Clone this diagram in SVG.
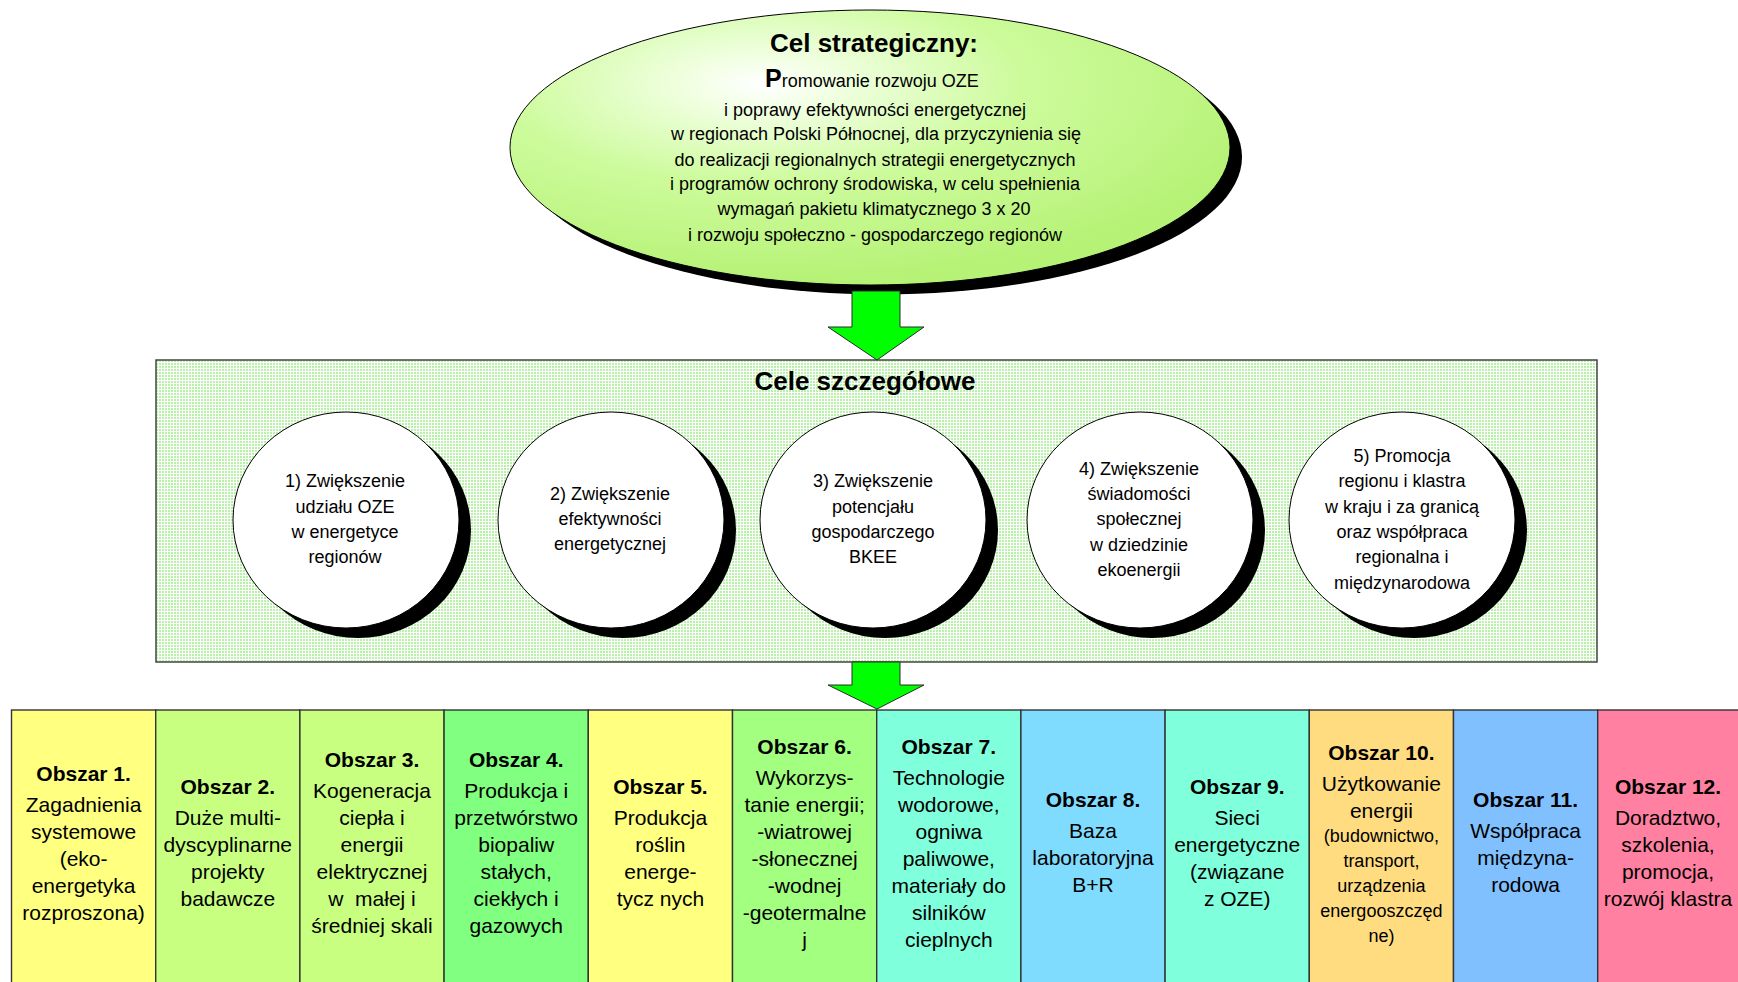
<svg xmlns="http://www.w3.org/2000/svg" width="1738" height="982" viewBox="0 0 1738 982">
<defs>
<radialGradient id="gEll" cx="0.35" cy="0.27" fx="0.35" fy="0.27" r="0.72">
<stop offset="0" stop-color="#ffffff"/>
<stop offset="0.15" stop-color="#f0ffe0"/>
<stop offset="0.5" stop-color="#cdfb9c"/>
<stop offset="1" stop-color="#b6f276"/>
</radialGradient>
<pattern id="dots" width="3" height="3" patternUnits="userSpaceOnUse">
<rect width="3" height="3" fill="#ffffff"/>
<rect width="2" height="2" fill="#b8f2a8"/>
</pattern>
<style>
text{font-family:"Liberation Sans",Arial,sans-serif;fill:#000;text-anchor:middle}
.shadow{fill:#000}
.circ{fill:#fff;stroke:#000;stroke-width:1}
.ctx{font-size:18px}
.etx{font-size:18px}
.box{stroke:#333;stroke-width:1.4}
.bt{font-size:21px;font-weight:bold}
.bb{font-size:21px}
.bs{font-size:18px}
.arrow{fill:#00ff00;stroke:#2a2a2a;stroke-width:1}
</style>
</defs>
<rect width="1738" height="982" fill="#ffffff"/>

<g id="strategic-goal">
<ellipse class="shadow" cx="882" cy="157" rx="360" ry="137.5"/>
<ellipse cx="870" cy="147.5" rx="360" ry="137.5" fill="url(#gEll)" stroke="#000" stroke-width="1"/>
<text x="874" y="52" style="font-size:26px;font-weight:bold">Cel strategiczny:</text>
<text class="etx" x="872" y="87"><tspan style="font-size:25px;font-weight:bold">P</tspan>romowanie rozwoju OZE</text>
<text class="etx" x="875" y="116">i poprawy efektywności energetycznej</text>
<text class="etx" x="876" y="140">w regionach Polski Północnej, dla przyczynienia się</text>
<text class="etx" x="875" y="166">do realizacji regionalnych strategii energetycznych</text>
<text class="etx" x="875" y="190">i programów ochrony środowiska, w celu spełnienia</text>
<text class="etx" x="874" y="215">wymagań pakietu klimatycznego 3 x 20</text>
<text class="etx" x="875" y="241">i rozwoju społeczno - gospodarczego regionów</text>
</g>

<g id="detailed-goals">
<rect x="156" y="360" width="1441" height="302" fill="url(#dots)" stroke="#444" stroke-width="1.5"/>
<text x="865" y="390" style="font-size:26px;font-weight:bold">Cele szczegółowe</text>
</g>

<g id="goal-1">
<ellipse class="shadow" cx="358" cy="530" rx="113" ry="108"/>
<ellipse class="circ" cx="346" cy="520" rx="113" ry="108"/>
<text class="ctx" x="345" y="487">1) Zwiększenie</text>
<text class="ctx" x="345" y="513">udziału OZE</text>
<text class="ctx" x="345" y="538">w energetyce</text>
<text class="ctx" x="345" y="563">regionów</text>
</g>
<g id="goal-2">
<ellipse class="shadow" cx="623" cy="530" rx="113" ry="108"/>
<ellipse class="circ" cx="611" cy="520" rx="113" ry="108"/>
<text class="ctx" x="610" y="500">2) Zwiększenie</text>
<text class="ctx" x="610" y="525">efektywności</text>
<text class="ctx" x="610" y="550">energetycznej</text>
</g>
<g id="goal-3">
<ellipse class="shadow" cx="885" cy="530" rx="113" ry="108"/>
<ellipse class="circ" cx="873" cy="520" rx="113" ry="108"/>
<text class="ctx" x="873" y="487">3) Zwiększenie</text>
<text class="ctx" x="873" y="513">potencjału</text>
<text class="ctx" x="873" y="538">gospodarczego</text>
<text class="ctx" x="873" y="563">BKEE</text>
</g>
<g id="goal-4">
<ellipse class="shadow" cx="1152" cy="530" rx="113" ry="108"/>
<ellipse class="circ" cx="1140" cy="520" rx="113" ry="108"/>
<text class="ctx" x="1139" y="475">4) Zwiększenie</text>
<text class="ctx" x="1139" y="500">świadomości</text>
<text class="ctx" x="1139" y="525">społecznej</text>
<text class="ctx" x="1139" y="551">w dziedzinie</text>
<text class="ctx" x="1139" y="576">ekoenergii</text>
</g>
<g id="goal-5">
<ellipse class="shadow" cx="1414" cy="530" rx="113" ry="108"/>
<ellipse class="circ" cx="1402" cy="520" rx="113" ry="108"/>
<text class="ctx" x="1402" y="462">5) Promocja</text>
<text class="ctx" x="1402" y="487">regionu i klastra</text>
<text class="ctx" x="1402" y="513">w kraju i za granicą</text>
<text class="ctx" x="1402" y="538">oraz współpraca</text>
<text class="ctx" x="1402" y="563">regionalna i</text>
<text class="ctx" x="1402" y="589">międzynarodowa</text>
</g>

<g id="area-1">
<rect class="box" x="11.5" y="710" width="144.2" height="290" fill="#ffff80"/>
<text class="bt" x="83.6" y="781">Obszar 1.</text>
<text class="bb" x="83.6" y="812">Zagadnienia</text>
<text class="bb" x="83.6" y="839">systemowe</text>
<text class="bb" x="83.6" y="866">(eko-</text>
<text class="bb" x="83.6" y="893">energetyka</text>
<text class="bb" x="83.6" y="920">rozproszona)</text>
</g>
<g id="area-2">
<rect class="box" x="155.7" y="710" width="144.2" height="290" fill="#c8ff80"/>
<text class="bt" x="227.8" y="794">Obszar 2.</text>
<text class="bb" x="227.8" y="825">Duże multi-</text>
<text class="bb" x="227.8" y="852">dyscyplinarne</text>
<text class="bb" x="227.8" y="879">projekty</text>
<text class="bb" x="227.8" y="906">badawcze</text>
</g>
<g id="area-3">
<rect class="box" x="299.9" y="710" width="144.2" height="290" fill="#c8ff80"/>
<text class="bt" x="372" y="767">Obszar 3.</text>
<text class="bb" x="372" y="798">Kogeneracja</text>
<text class="bb" x="372" y="825">ciepła i</text>
<text class="bb" x="372" y="852">energii</text>
<text class="bb" x="372" y="879">elektrycznej</text>
<text class="bb" x="372" y="906" xml:space="preserve">w  małej i</text>
<text class="bb" x="372" y="933">średniej skali</text>
</g>
<g id="area-4">
<rect class="box" x="444.1" y="710" width="144.2" height="290" fill="#80ff80"/>
<text class="bt" x="516.2" y="767">Obszar 4.</text>
<text class="bb" x="516.2" y="798">Produkcja i</text>
<text class="bb" x="516.2" y="825">przetwórstwo</text>
<text class="bb" x="516.2" y="852">biopaliw</text>
<text class="bb" x="516.2" y="879">stałych,</text>
<text class="bb" x="516.2" y="906">ciekłych i</text>
<text class="bb" x="516.2" y="933">gazowych</text>
</g>
<g id="area-5">
<rect class="box" x="588.3" y="710" width="144.2" height="290" fill="#ffff80"/>
<text class="bt" x="660.4" y="794">Obszar 5.</text>
<text class="bb" x="660.4" y="825">Produkcja</text>
<text class="bb" x="660.4" y="852">roślin</text>
<text class="bb" x="660.4" y="879">energe-</text>
<text class="bb" x="660.4" y="906">tycz nych</text>
</g>
<g id="area-6">
<rect class="box" x="732.5" y="710" width="144.2" height="290" fill="#a2ff80"/>
<text class="bt" x="804.6" y="754">Obszar 6.</text>
<text class="bb" x="804.6" y="785">Wykorzys-</text>
<text class="bb" x="804.6" y="812">tanie energii;</text>
<text class="bb" x="804.6" y="839">-wiatrowej</text>
<text class="bb" x="804.6" y="866">-słonecznej</text>
<text class="bb" x="804.6" y="893">-wodnej</text>
<text class="bb" x="804.6" y="920">-geotermalne</text>
<text class="bb" x="804.6" y="947">j</text>
</g>
<g id="area-7">
<rect class="box" x="876.7" y="710" width="144.2" height="290" fill="#80ffdc"/>
<text class="bt" x="948.8" y="754">Obszar 7.</text>
<text class="bb" x="948.8" y="785">Technologie</text>
<text class="bb" x="948.8" y="812">wodorowe,</text>
<text class="bb" x="948.8" y="839">ogniwa</text>
<text class="bb" x="948.8" y="866">paliwowe,</text>
<text class="bb" x="948.8" y="893">materiały do</text>
<text class="bb" x="948.8" y="920">silników</text>
<text class="bb" x="948.8" y="947">cieplnych</text>
</g>
<g id="area-8">
<rect class="box" x="1020.9" y="710" width="144.2" height="290" fill="#80dcff"/>
<text class="bt" x="1093" y="807">Obszar 8.</text>
<text class="bb" x="1093" y="838">Baza</text>
<text class="bb" x="1093" y="865">laboratoryjna</text>
<text class="bb" x="1093" y="892">B+R</text>
</g>
<g id="area-9">
<rect class="box" x="1165.1" y="710" width="144.2" height="290" fill="#80ffdc"/>
<text class="bt" x="1237.2" y="794">Obszar 9.</text>
<text class="bb" x="1237.2" y="825">Sieci</text>
<text class="bb" x="1237.2" y="852">energetyczne</text>
<text class="bb" x="1237.2" y="879">(związane</text>
<text class="bb" x="1237.2" y="906">z OZE)</text>
</g>
<g id="area-10">
<rect class="box" x="1309.3" y="710" width="144.2" height="290" fill="#ffdc80"/>
<text class="bt" x="1381.4" y="760">Obszar 10.</text>
<text class="bb" x="1381.4" y="791">Użytkowanie</text>
<text class="bb" x="1381.4" y="818">energii</text>
<text class="bs" x="1381.4" y="842">(budownictwo,</text>
<text class="bs" x="1381.4" y="867">transport,</text>
<text class="bs" x="1381.4" y="892">urządzenia</text>
<text class="bs" x="1381.4" y="917">energooszczęd</text>
<text class="bs" x="1381.4" y="942">ne)</text>
</g>
<g id="area-11">
<rect class="box" x="1453.5" y="710" width="144.2" height="290" fill="#80c0ff"/>
<text class="bt" x="1525.6" y="807">Obszar 11.</text>
<text class="bb" x="1525.6" y="838">Współpraca</text>
<text class="bb" x="1525.6" y="865">międzyna-</text>
<text class="bb" x="1525.6" y="892">rodowa</text>
</g>
<g id="area-12">
<rect class="box" x="1597.7" y="710" width="144.2" height="290" fill="#ff80a0"/>
<text class="bt" x="1668" y="794">Obszar 12.</text>
<text class="bb" x="1668" y="825">Doradztwo,</text>
<text class="bb" x="1668" y="852">szkolenia,</text>
<text class="bb" x="1668" y="879">promocja,</text>
<text class="bb" x="1668" y="906">rozwój klastra</text>
</g>

<g id="connectors">
<polygon class="arrow" points="852,291 900,291 900,327 924,327 877,360 828,327 852,327"/>
<polygon class="arrow" points="852,662 900,662 900,685 924,685 877,709 828,685 852,685"/>
</g>
</svg>
